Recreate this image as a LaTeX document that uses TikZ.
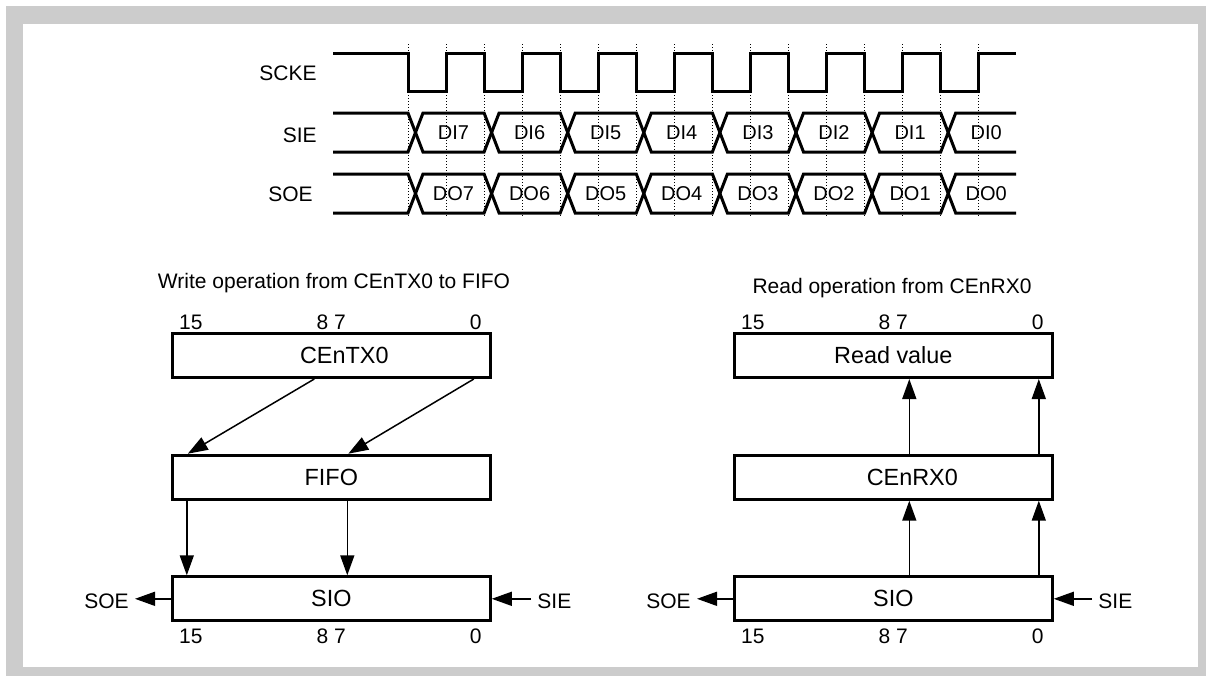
\documentclass[tikz,border=0pt]{standalone}
\usepackage{fontspec}
\setmainfont{Liberation Sans}
\usetikzlibrary{arrows.meta}

\begin{document}
\begin{tikzpicture}[x=0.5pt, y=-0.5pt,
    lbl/.style={inner sep=0pt, font=\fontsize{10.5}{12}\selectfont},
    dat/.style={inner sep=0pt, font=\fontsize{10}{12}\selectfont},
    side/.style={inner sep=0pt, inner xsep=3pt, font=\fontsize{10.5}{12}\selectfont},
    wave/.style={line width=1.5pt},
    guide/.style={line width=0.5pt, dash pattern=on 0.5pt off 1pt},
    regbox/.style={draw, line width=1.5pt, minimum width=159pt, minimum height=22pt, inner sep=0pt, font=\fontsize{11.7}{13}\selectfont},
    arr/.style={line width=0.75pt, -{Triangle[length=10pt, width=7pt]}}]

    \useasboundingbox (0,0) rectangle (1206,676);
    \fill[gray!40] (6,6) rectangle (1206,676);
    \fill[white] (23,24) rectangle (1198,667);

    % clock edges
    \foreach \k in {0,...,7} {
        \draw[guide] ({408+76.1*\k},44) -- ({408+76.1*\k},218);
        \draw[guide] ({446+76.1*\k},44) -- ({446+76.1*\k},218);
    }

    \node (scke)  at ( 317, 73 ) [lbl, anchor=east] {SCKE};
    \node (sie)   at ( 317, 135.5 ) [lbl, anchor=east] {SIE};
    \node (soe)   at ( 313, 194 ) [lbl, anchor=east] {SOE};

    \draw[wave] (333,53) foreach \k in {0,...,7} { -- ({408+76.1*\k},53) -- ({408+76.1*\k},91) -- ({446+76.1*\k},91) -- ({446+76.1*\k},53) } -- (1016,53);

    \draw[wave] (333,113) foreach \k in {0,...,7} { -- ({408+76.1*\k},{132.5-19.5*cos(180*\k)}) -- ({423+76.1*\k},{132.5+19.5*cos(180*\k)}) } -- (1016,113);
    \draw[wave] (333,152) foreach \k in {0,...,7} { -- ({408+76.1*\k},{132.5+19.5*cos(180*\k)}) -- ({423+76.1*\k},{132.5-19.5*cos(180*\k)}) } -- (1016,152);

    \draw[wave] (333,174) foreach \k in {0,...,7} { -- ({408+76.1*\k},{193.5-19.5*cos(180*\k)}) -- ({423+76.1*\k},{193.5+19.5*cos(180*\k)}) } -- (1016,174);
    \draw[wave] (333,213) foreach \k in {0,...,7} { -- ({408+76.1*\k},{193.5+19.5*cos(180*\k)}) -- ({423+76.1*\k},{193.5-19.5*cos(180*\k)}) } -- (1016,213);

    \node (di7)  at ( 453.5, 133 ) [dat] {DI7};
    \node (di6)  at ( 529.6, 133 ) [dat] {DI6};
    \node (di5)  at ( 605.7, 133 ) [dat] {DI5};
    \node (di4)  at ( 681.8, 133 ) [dat] {DI4};
    \node (di3)  at ( 757.9, 133 ) [dat] {DI3};
    \node (di2)  at ( 834.0, 133 ) [dat] {DI2};
    \node (di1)  at ( 910.1, 133 ) [dat] {DI1};
    \node (di0)  at ( 986.2, 133 ) [dat] {DI0};

    \node (do7)  at ( 453.5, 194 ) [dat] {DO7};
    \node (do6)  at ( 529.6, 194 ) [dat] {DO6};
    \node (do5)  at ( 605.7, 194 ) [dat] {DO5};
    \node (do4)  at ( 681.8, 194 ) [dat] {DO4};
    \node (do3)  at ( 757.9, 194 ) [dat] {DO3};
    \node (do2)  at ( 834.0, 194 ) [dat] {DO2};
    \node (do1)  at ( 910.1, 194 ) [dat] {DO1};
    \node (do0)  at ( 986.2, 194 ) [dat] {DO0};

    % write side
    \node (wrtitle)  at ( 334, 288 ) [lbl, anchor=base] {Write operation from CEnTX0 to FIFO};

    \node (txreg)  at ( 331.3, 355.5 ) [regbox] {\hspace{13pt}CEnTX0};
    \node (fifo)   at ( 331.3, 477.2 ) [regbox] {FIFO};
    \node (sioW)   at ( 331.3, 598.8 ) [regbox] {SIO};

    \node (txhi)   at ([shift={(10pt,5pt)}]txreg.north west) [lbl] {15};
    \node (txmid)  at ([yshift=5pt]txreg.north) [lbl] {8 7};
    \node (txlo)   at ([shift={(-8pt,5pt)}]txreg.north east) [lbl] {0};
    \node (sioWhi)  at ([shift={(10pt,-7pt)}]sioW.south west) [lbl] {15};
    \node (sioWmid) at ([yshift=-7pt]sioW.south) [lbl] {8 7};
    \node (sioWlo)  at ([shift={(-8pt,-7pt)}]sioW.south east) [lbl] {0};

    \draw[arr] ([xshift=-8.5pt]txreg.south) -- ([xshift=8.5pt]fifo.north west);
    \draw[arr] ([xshift=-9pt]txreg.south east) -- ([xshift=8.5pt]fifo.north);
    \draw[arr] ([xshift=8pt]fifo.south west) -- ([xshift=8pt]sioW.north west);
    \draw[arr] ([xshift=8pt]fifo.south) -- ([xshift=8pt]sioW.north);

    \node (soeW)  at ( 135, 601.7 ) [side, anchor=east] {SOE};
    \node (sieW)  at ( 531, 601.7 ) [side, anchor=west] {SIE};
    \draw[arr] (sioW.west) -- (sioW.west -| soeW.east);
    \draw[arr] (sioW.east -| sieW.west) -- (sioW.east);

    % read side
    \node (rdtitle)  at ( 892, 293 ) [lbl, anchor=base] {Read operation from CEnRX0};

    \node (rdval)  at ( 893.3, 355.5 ) [regbox] {Read value};
    \node (rxreg)  at ( 893.3, 477.2 ) [regbox] {\hspace{19pt}CEnRX0};
    \node (sioR)   at ( 893.3, 598.8 ) [regbox] {SIO};

    \node (rdhi)   at ([shift={(10pt,5pt)}]rdval.north west) [lbl] {15};
    \node (rdmid)  at ([yshift=5pt]rdval.north) [lbl] {8 7};
    \node (rdlo)   at ([shift={(-8pt,5pt)}]rdval.north east) [lbl] {0};
    \node (sioRhi)  at ([shift={(10pt,-7pt)}]sioR.south west) [lbl] {15};
    \node (sioRmid) at ([yshift=-7pt]sioR.south) [lbl] {8 7};
    \node (sioRlo)  at ([shift={(-8pt,-7pt)}]sioR.south east) [lbl] {0};

    \draw[arr] ([xshift=8pt]sioR.north) -- ([xshift=8pt]rxreg.south);
    \draw[arr] ([xshift=-7.5pt]sioR.north east) -- ([xshift=-7.5pt]rxreg.south east);
    \draw[arr] ([xshift=8pt]rxreg.north) -- ([xshift=8pt]rdval.south);
    \draw[arr] ([xshift=-7.5pt]rxreg.north east) -- ([xshift=-7.5pt]rdval.south east);

    \node (soeR)  at ( 697, 601.7 ) [side, anchor=east] {SOE};
    \node (sieR)  at ( 1092, 601.7 ) [side, anchor=west] {SIE};
    \draw[arr] (sioR.west) -- (sioR.west -| soeR.east);
    \draw[arr] (sioR.east -| sieR.west) -- (sioR.east);

\end{tikzpicture}
\end{document}
